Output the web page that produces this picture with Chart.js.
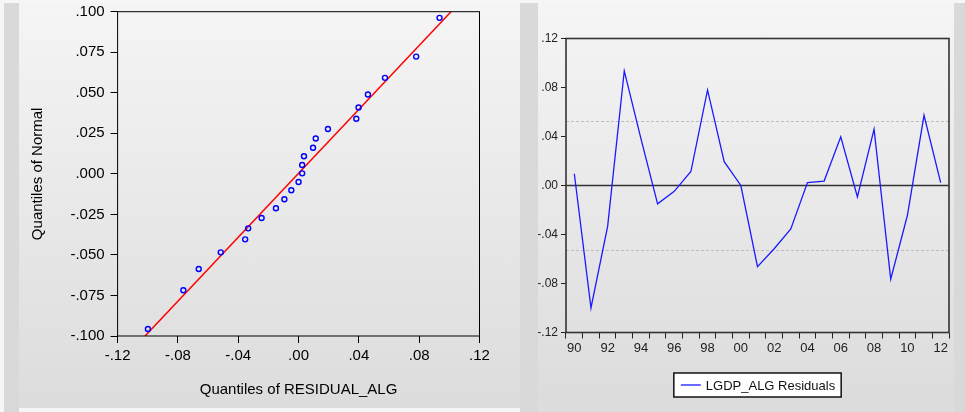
<!DOCTYPE html>
<html>
<head>
<meta charset="utf-8">
<script src="https://cdn.jsdelivr.net/npm/chart.js@4.4.0/dist/chart.umd.min.js"></script>
<style>
    html, body { margin: 0; padding: 0; }
    body { width: 965px; height: 412px; background: #f6f6f6; position: relative; overflow: hidden; }
    .strip { position: absolute; background: #d9d9d9; }
    .panel { position: absolute; background: linear-gradient(#f5f5f5, #dcdcdc); }
    .box { position: absolute; }
</style>
</head>
<body>
<div class="strip" style="left:4px;top:3px;width:15px;height:409px"></div>
<div class="panel" style="left:19px;top:3px;width:501px;height:405px"></div>
<div class="strip" style="left:520px;top:3px;width:18px;height:409px"></div>
<div class="panel" style="left:538px;top:3px;width:416px;height:398px"></div>
<div class="strip" style="left:954px;top:3px;width:11px;height:409px"></div>
<div class="strip" style="left:538px;top:401px;width:416px;height:11px;background:#dddddd"></div>

<div class="box" style="left:19px;top:3px;width:501px;height:405px"><canvas id="qqChart"></canvas></div>
<div class="box" style="left:538px;top:3px;width:416px;height:398px"><canvas id="residChart"></canvas></div>

<script>
// Q-Q plot data (sorted residuals vs normal quantiles)
const qqResidual = [-0.0999, -0.0764, -0.0662, -0.0516, -0.0354, -0.0334, -0.0245, -0.0150, -0.0094, -0.0048, 0.0000, 0.0024,
    0.0024, 0.0036, 0.0096, 0.0114, 0.0195, 0.0383, 0.0398, 0.0460, 0.0573, 0.0780, 0.0935];
const qqNormal = [-0.0957, -0.0718, -0.0587, -0.0484, -0.0404, -0.0336, -0.0272, -0.0212, -0.0157, -0.0101, -0.0050, 0.0003,
    0.0055, 0.0109, 0.0161, 0.0218, 0.0277, 0.0340, 0.0409, 0.0489, 0.0592, 0.0723, 0.0962];
const fitX = [-0.1018, 0.1011];
const fitY = [-0.100, 0.100];
const qqXTicks = [-0.12, -0.08, -0.04, 0.00, 0.04, 0.08, 0.12];
const qqYTicks = [-0.100, -0.075, -0.050, -0.025, 0.000, 0.025, 0.050, 0.075, 0.100];

// residual series
const years = ['90', '91', '92', '93', '94', '95', '96', '97', '98', '99', '00', '01',
    '02', '03', '04', '05', '06', '07', '08', '09', '10', '11', '12'];
const residuals = [0.0096, -0.0999, -0.0334, 0.0935, 0.0383, -0.0150, -0.0048, 0.0114, 0.0780, 0.0195, 0.0000, -0.0662,
    -0.0516, -0.0354, 0.0024, 0.0036, 0.0398, -0.0094, 0.0460, -0.0764, -0.0245, 0.0573, 0.0024];
const residYTicks = [-0.12, -0.08, -0.04, 0.00, 0.04, 0.08, 0.12];
const bandLines = [0.053, -0.053];

const decimalLabel = (v, d) => {
    const s = Number(v).toFixed(d);
    return s.replace('0.', '.');
};

// keep the plot box where we put it, labels may hang over the edges
const noEdgePadding = s => {
    s.paddingTop = 0; s.paddingBottom = 0; s.paddingLeft = 0; s.paddingRight = 0;
};

const frame = {
    id: 'frame',
    afterDraw(chart, args, opts) {
        const { ctx, chartArea: a } = chart;
        ctx.save();
        ctx.strokeStyle = opts.color || '#000';
        ctx.lineWidth = opts.width || 1;
        ctx.strokeRect(a.left, a.top, a.right - a.left, a.bottom - a.top);
        ctx.restore();
    }
};

const SANS = "'Liberation Sans', Arial, sans-serif";
const NARROW = "'Liberation Sans Narrow', 'Arial Narrow', 'Liberation Sans', sans-serif";

new Chart(document.getElementById('qqChart'), {
    type: 'scatter',
    data: {
        datasets: [
            {
                data: qqResidual.map((x, i) => ({ x, y: qqNormal[i] })),
                pointStyle: 'circle',
                pointRadius: 2.5,
                pointBorderWidth: 1.4,
                pointBorderColor: '#0000ff',
                pointBackgroundColor: 'rgba(0,0,0,0)',
                showLine: false,
                order: 1
            },
            {
                data: fitX.map((x, i) => ({ x, y: fitY[i] })),
                showLine: true,
                borderColor: '#ff0000',
                borderWidth: 1.5,
                pointRadius: 0,
                order: 2
            }
        ]
    },
    options: {
        responsive: true,
        maintainAspectRatio: false,
        animation: false,
        layout: { padding: { top: 8.7, right: 40.5, left: 0, bottom: 0 } },
        plugins: { legend: { display: false }, tooltip: { enabled: false }, frame: { color: '#000', width: 1 } },
        scales: {
            x: {
                type: 'linear', min: -0.12, max: 0.12,
                afterBuildTicks: s => { s.ticks = qqXTicks.map(v => ({ value: v })); },
                afterFit: s => { s.height = 72; noEdgePadding(s); },
                grid: { drawOnChartArea: false, tickLength: 7, color: '#000' },
                border: { display: false },
                ticks: { padding: 4, color: '#000', font: { family: SANS, size: 15 }, callback: v => decimalLabel(v, 2) },
                title: { display: true, text: 'Quantiles of RESIDUAL_ALG', color: '#000', padding: 9, font: { family: SANS, size: 15 } }
            },
            y: {
                type: 'linear', min: -0.1, max: 0.1,
                afterBuildTicks: s => { s.ticks = qqYTicks.map(v => ({ value: v })); },
                afterFit: s => { s.width = 98.6; noEdgePadding(s); },
                grid: { drawOnChartArea: false, tickLength: 7, color: '#000' },
                border: { display: false },
                ticks: { padding: 6, color: '#000', font: { family: SANS, size: 15 }, callback: v => decimalLabel(v, 3) },
                title: { display: true, text: 'Quantiles of Normal', color: '#000', padding: 10, font: { family: SANS, size: 15 } }
            }
        }
    },
    plugins: [frame]
});

const refLines = {
    id: 'refLines',
    beforeDatasetsDraw(chart) {
        const { ctx, chartArea: a, scales: { y } } = chart;
        ctx.save();
        ctx.strokeStyle = '#bdbdbd';
        ctx.lineWidth = 1;
        ctx.setLineDash([3, 2]);
        bandLines.forEach(v => {
            const py = Math.round(y.getPixelForValue(v)) + 0.5;
            ctx.beginPath(); ctx.moveTo(a.left, py); ctx.lineTo(a.right, py); ctx.stroke();
        });
        ctx.setLineDash([]);
        ctx.strokeStyle = '#333';
        ctx.lineWidth = 1.5;
        const zy = y.getPixelForValue(0);
        ctx.beginPath(); ctx.moveTo(a.left, zy); ctx.lineTo(a.right, zy); ctx.stroke();
        ctx.restore();
    }
};

const boxLegend = {
    id: 'boxLegend',
    afterDraw(chart) {
        const { ctx, chartArea: a } = chart;
        const ds = chart.data.datasets[0];
        ctx.save();
        ctx.font = '13px ' + NARROW;
        const tw = ctx.measureText(ds.label).width;
        const w = 7 + 20 + 5 + tw + 6, h = 24;
        const left = (a.left + a.right) / 2 - w / 2;
        const top = a.bottom + 40.5;
        ctx.fillStyle = '#fff';
        ctx.fillRect(left, top, w, h);
        ctx.strokeStyle = '#111';
        ctx.lineWidth = 1.5;
        ctx.strokeRect(left, top, w, h);
        ctx.strokeStyle = ds.borderColor;
        ctx.lineWidth = 1.3;
        ctx.beginPath(); ctx.moveTo(left + 7, top + h / 2); ctx.lineTo(left + 27, top + h / 2); ctx.stroke();
        ctx.fillStyle = '#111';
        ctx.textBaseline = 'middle';
        ctx.fillText(ds.label, left + 32, top + h / 2 + 1);
        ctx.restore();
    }
};

new Chart(document.getElementById('residChart'), {
    type: 'line',
    data: {
        labels: years,
        datasets: [{
            label: 'LGDP_ALG Residuals',
            data: residuals,
            borderColor: '#1a1aff',
            borderWidth: 1.3,
            pointRadius: 0,
            tension: 0,
            fill: false
        }]
    },
    options: {
        responsive: true,
        maintainAspectRatio: false,
        animation: false,
        layout: { padding: { top: 35.5, right: 5, left: 0, bottom: 0 } },
        plugins: { legend: { display: false }, tooltip: { enabled: false }, frame: { color: '#333', width: 1.6 } },
        scales: {
            x: {
                type: 'category', offset: true,
                afterFit: s => { s.height = 68.5; noEdgePadding(s); },
                grid: { offset: true, drawOnChartArea: false, tickLength: 6, color: '#222' },
                border: { display: false },
                ticks: {
                    autoSkip: false, maxRotation: 0, padding: 2, color: '#222',
                    font: { family: NARROW, size: 13 },
                    callback: (v, i) => (i % 2 === 0 ? years[i] : '')
                }
            },
            y: {
                type: 'linear', min: -0.12, max: 0.12,
                afterBuildTicks: s => { s.ticks = residYTicks.map(v => ({ value: v })); },
                afterFit: s => { s.width = 28; noEdgePadding(s); },
                grid: { drawOnChartArea: false, tickLength: 5, color: '#222' },
                border: { display: false },
                ticks: { padding: 3, color: '#222', font: { family: NARROW, size: 12 }, callback: v => decimalLabel(v, 2) }
            }
        }
    },
    plugins: [refLines, frame, boxLegend]
});
</script>
</body>
</html>
